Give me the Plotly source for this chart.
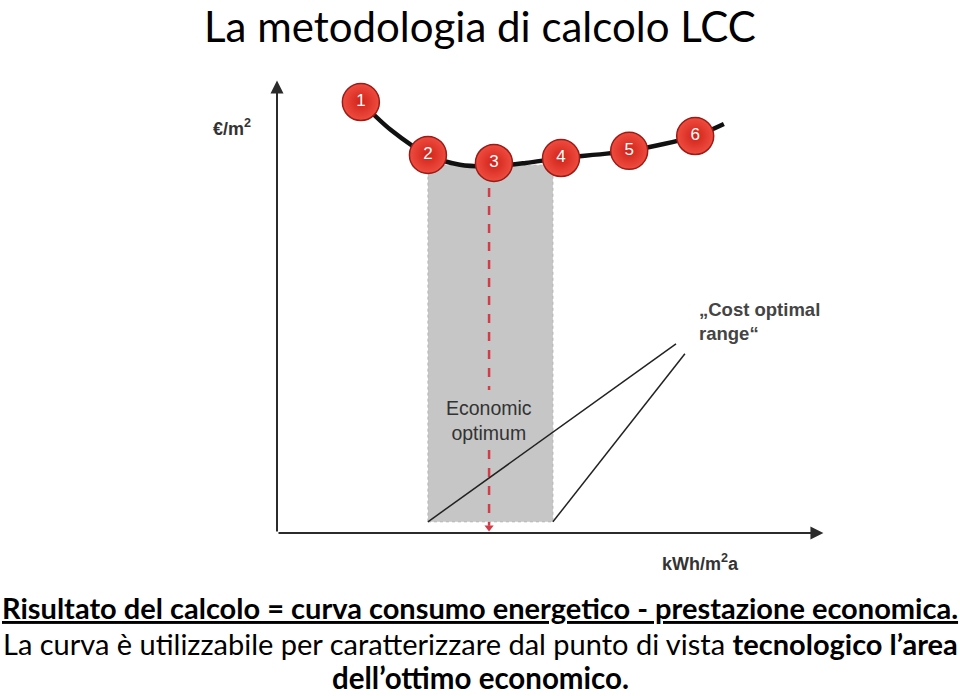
import plotly.graph_objects as go

# ---- data (chart units: x = kWh/m2a, y = EUR/m2, arbitrary scale 0-100) ----
point_labels = ["1", "2", "3", "4", "5", "6"]
point_x = [15.5, 27.9, 40.1, 52.5, 65.1, 77.3]
point_y = [96.2, 84.4, 82.6, 83.7, 85.3, 88.6]
curve_x = [15.5, 21.0, 27.9, 33.8, 40.1, 46.0, 52.5, 65.1, 77.3, 82.6]
curve_y = [96.2, 90.0, 84.4, 82.2, 81.9, 82.6, 83.7, 85.3, 88.6, 91.3]

range_x = [27.9, 51.0]          # cost optimal range
range_y = [2.5, 82.1]
optimum_x = 39.2                # economic optimum
dash_upper = [77.0, 31.9]
dash_lower = [18.5, 1.6]
pointer1 = [[27.9, 2.5], [73.75, 42.2]]
pointer2 = [[51.0, 2.5], [75.4, 40.0]]

axis_max_x = 100
axis_max_y = 100

title_text = "La metodologia di calcolo LCC"
y_label = "€/m<sup>2</sup>"
x_label = "kWh/m<sup>2</sup>a"
optimum_label = "Economic<br>optimum"
range_label = "„Cost optimal<br>range“"
line1 = "<b><u>Risultato del calcolo = curva consumo energetico - prestazione economica.</u></b>"
line2 = "La curva è utilizzabile per caratterizzare dal punto di vista <b>tecnologico l’area</b>"
line3 = "<b>dell’ottimo economico.</b>"

AX = "#2b2b2b"
SANS = "Liberation Sans"
CAL = "Lato"

fig = go.Figure()

# gray range
fig.add_trace(go.Scatter(
    x=[range_x[0], range_x[1], range_x[1], range_x[0], range_x[0]],
    y=[range_y[0], range_y[0], range_y[1], range_y[1], range_y[0]],
    fill="toself", fillcolor="#c6c6c6", mode="lines",
    line=dict(color="#b4b4b4", width=1, dash="dot"), hoverinfo="skip", showlegend=False))

# red dashed optimum line
for seg in (dash_upper, dash_lower):
    fig.add_trace(go.Scatter(x=[optimum_x, optimum_x], y=seg, mode="lines",
                             line=dict(color="#d23c48", width=2.5, dash="dash"),
                             hoverinfo="skip", showlegend=False))
fig.add_trace(go.Scatter(x=[optimum_x], y=[1.2], mode="markers",
                         marker=dict(symbol="triangle-down", size=8, color="#d23c48"),
                         hoverinfo="skip", showlegend=False))

# pointer lines
for p in (pointer1, pointer2):
    fig.add_trace(go.Scatter(x=[p[0][0], p[1][0]], y=[p[0][1], p[1][1]], mode="lines",
                             line=dict(color="#222222", width=1.5),
                             hoverinfo="skip", showlegend=False))

# cost curve
fig.add_trace(go.Scatter(x=curve_x, y=curve_y, mode="lines",
                         line=dict(color="#111111", width=4.5, shape="spline", smoothing=0.8),
                         hoverinfo="skip", showlegend=False))

# numbered circles
fig.add_trace(go.Scatter(
    x=point_x, y=point_y, mode="markers+text", text=point_labels,
    textposition="middle center",
    textfont=dict(family=SANS, size=17, color="white"),
    marker=dict(size=37, color="#f04c40",
                gradient=dict(type="radial", color="#cf2218"),
                line=dict(color="#9a1c16", width=1.5)),
    hoverinfo="skip", showlegend=False))

# axes with arrows
fig.add_annotation(x=axis_max_x + 1, y=0, ax=0, ay=0, xref="x", yref="y", axref="x", ayref="y",
                   showarrow=True, arrowhead=2, arrowsize=1.3, arrowwidth=2, arrowcolor=AX, text="")
fig.add_annotation(x=0, y=axis_max_y + 1, ax=0, ay=0, xref="x", yref="y", axref="x", ayref="y",
                   showarrow=True, arrowhead=2, arrowsize=1.3, arrowwidth=2, arrowcolor=AX, text="")

# chart texts
fig.add_annotation(x=-8.3, y=90.6, xref="x", yref="y", text="<b>" + y_label + "</b>", showarrow=False,
                   font=dict(family=SANS, size=18, color="#333333"))
fig.add_annotation(x=78.2, y=-6.5, xref="x", yref="y", text="<b>" + x_label + "</b>", showarrow=False,
                   font=dict(family=SANS, size=18, color="#333333"))
fig.add_annotation(x=optimum_x, y=25.2, xref="x", yref="y", text=optimum_label, showarrow=False,
                   font=dict(family=SANS, size=19.5, color="#333333"), align="center")
fig.add_annotation(x=77.6, y=47.3, xref="x", yref="y", text="<b>" + range_label + "</b>", showarrow=False,
                   xanchor="left", align="left",
                   font=dict(family=SANS, size=18.5, color="#444444"))

# title and captions
fig.add_annotation(x=0.5, y=1, xref="paper", yref="paper", text=title_text, showarrow=False,
                   font=dict(family=CAL, size=42, color="black"), yanchor="top", borderpad=0)
fig.add_annotation(x=0.5, y=1 - 607 / 696, xref="paper", yref="paper", text=line1, showarrow=False,
                   font=dict(family=CAL, size=29, color="black"), yanchor="middle", borderpad=0)
fig.add_annotation(x=0.5, y=1 - 643 / 696, xref="paper", yref="paper", text=line2, showarrow=False,
                   font=dict(family=CAL, size=29, color="black"), yanchor="middle", borderpad=0)
fig.add_annotation(x=0.5, y=0, xref="paper", yref="paper", text=line3, showarrow=False,
                   font=dict(family=CAL, size=29.5, color="black"), yanchor="bottom", borderpad=0)

fig.update_layout(
    width=960, height=696, margin=dict(l=0, r=0, t=0, b=0),
    paper_bgcolor="white", plot_bgcolor="white",
    xaxis=dict(range=[-277 / 5.41, (960 - 277) / 5.41], visible=False, fixedrange=True),
    yaxis=dict(range=[-(696 - 533) / 4.48, 533 / 4.48], visible=False, fixedrange=True),
)

fig.write_html("out.html")
